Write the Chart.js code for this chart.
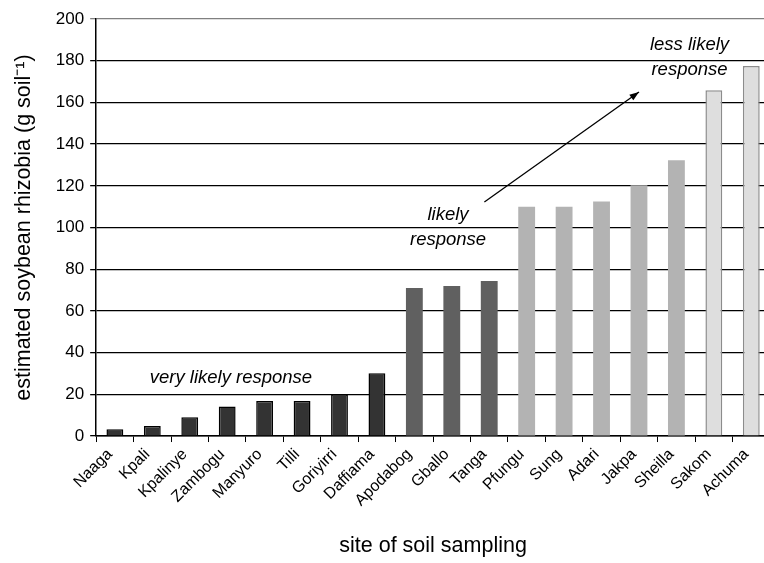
<!DOCTYPE html>
<html>
<head>
<meta charset="utf-8">
<script src="https://cdn.jsdelivr.net/npm/chart.js@4"></script>
<style>
  html, body { margin: 0; padding: 0; background: #fff; overflow: hidden; }
  #wrap { position: relative; width: 776px; height: 563px; }
</style>
</head>
<body>
<div id="wrap"><canvas id="chart"></canvas></div>
<script>
// site names and estimated rhizobia counts
const sites = ["Naaga", "Kpali", "Kpalinye", "Zambogu", "Manyuro", "Tilli", "Goriyirri", "Daffiama",
  "Apodabog", "Gballo", "Tanga", "Pfungu", "Sung", "Adari", "Jakpa", "Sheilla", "Sakom", "Achuma"];
const rhizobia = [3.2, 4.8, 9, 14.2, 16.8, 16.8, 20, 30.1, 71, 71.9, 74.3, 110, 110, 112.5, 120.3, 132.3, 165.8, 177.4];
// response group per site: 0 very likely, 1 likely (mid), 2 likely, 3 less likely
const group = [0, 0, 0, 0, 0, 0, 0, 0, 1, 1, 1, 2, 2, 2, 2, 2, 3, 3];
const yTicks = [0, 20, 40, 60, 80, 100, 120, 140, 160, 180, 200];

const fills = ["#333333", "#606060", "#b3b3b3", "#dedede"];
const borders = ["#000000", "#606060", "#b3b3b3", "#8c8c8c"];

const FONT = "'Liberation Sans', Arial, sans-serif";

// text labels and arrow placed through the scales
const notes = {
  id: "notes",
  afterDraw(chart) {
    const { ctx, scales: { x, y } } = chart;
    ctx.save();
    ctx.fillStyle = "#000";
    ctx.font = "italic 18.5px " + FONT;
    ctx.textAlign = "center";
    ctx.textBaseline = "middle";
    ctx.fillText("very likely response", x.getPixelForValue(3.1), y.getPixelForValue(27.8));
    ctx.fillText("likely", x.getPixelForValue(8.9), y.getPixelForValue(106));
    ctx.fillText("response", x.getPixelForValue(8.9), y.getPixelForValue(94));
    ctx.fillText("less likely", x.getPixelForValue(15.35), y.getPixelForValue(187.5));
    ctx.fillText("response", x.getPixelForValue(15.35), y.getPixelForValue(175.5));

    // arrow
    const x0 = x.getPixelForValue(9.87), y0 = y.getPixelForValue(112.2);
    const x1 = x.getPixelForValue(14.0), y1 = y.getPixelForValue(165);
    ctx.strokeStyle = "#000";
    ctx.lineWidth = 1.3;
    ctx.beginPath();
    ctx.moveTo(x0, y0);
    ctx.lineTo(x1, y1);
    ctx.stroke();
    const a = Math.atan2(y1 - y0, x1 - x0);
    ctx.beginPath();
    ctx.moveTo(x1, y1);
    ctx.lineTo(x1 - 10 * Math.cos(a - 0.35), y1 - 10 * Math.sin(a - 0.35));
    ctx.lineTo(x1 - 10 * Math.cos(a + 0.35), y1 - 10 * Math.sin(a + 0.35));
    ctx.closePath();
    ctx.fill();
    ctx.restore();
  }
};

new Chart(document.getElementById("chart"), {
  type: "bar",
  data: {
    labels: sites,
    datasets: [{
      data: rhizobia,
      backgroundColor: group.map(g => fills[g]),
      borderColor: group.map(g => borders[g]),
      borderWidth: group.map(g => (g === 0 || g === 3) ? 1.5 : 0),
      barPercentage: 0.9,
      categoryPercentage: 0.5
    }]
  },
  options: {
    responsive: true,
    maintainAspectRatio: false,
    animation: false,
    devicePixelRatio: 1,
    layout: { padding: { top: 19, right: 6, bottom: 4, left: 11 } },
    plugins: { legend: { display: false }, tooltip: { enabled: false } },
    scales: {
      x: {
        grid: { drawOnChartArea: false, drawTicks: true, tickLength: 6, color: "#000", offset: true },
        border: { color: "#000", width: 1.5 },
        ticks: { color: "#000", font: { family: FONT, size: 16 }, minRotation: 45, maxRotation: 45, padding: 3, labelOffset: -5 },
        title: { display: true, text: "site of soil sampling", color: "#000", font: { family: FONT, size: 21.5 }, padding: { top: 20, bottom: 0 } }
      },
      y: {
        min: 0,
        max: 200,
        afterBuildTicks: axis => { axis.ticks = yTicks.map(v => ({ value: v })); },
        grid: {
          color: c => c.tick && c.tick.value === 200 ? "#808080" : "#000",
          lineWidth: 1.3,
          tickLength: 6
        },
        border: { color: "#000", width: 1.5 },
        ticks: { color: "#000", font: { family: FONT, size: 17 }, padding: 6 },
        title: { display: true, text: "estimated soybean rhizobia (g soil\u207B\u00B9)", color: "#000", font: { family: FONT, size: 21.5 }, padding: { top: 0, bottom: 13 } }
      }
    }
  },
  plugins: [notes]
});
</script>
</body>
</html>
